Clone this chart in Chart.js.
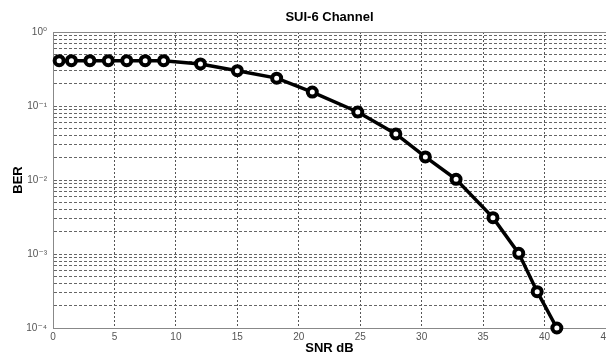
<!DOCTYPE html>
<html>
<head>
<meta charset="utf-8">
<script src="https://cdn.jsdelivr.net/npm/chart.js@4/dist/chart.umd.min.js"></script>
<style>
html,body{margin:0;padding:0;background:#fff;overflow:hidden;}
canvas{display:block;}
</style>
</head>
<body>
<canvas id="c" width="606" height="355"></canvas>
<script>
// ---- data ----
const titleText = "SUI-6 Channel";
const xTitle = "SNR dB";
const yTitle = "BER";
const snr = [0.5, 1.5, 3, 4.5, 6, 7.5, 9, 12, 15, 18.2, 21.1, 24.8, 27.9, 30.3, 32.8, 35.8, 37.9, 39.4, 41];
const ber = [0.41, 0.41, 0.41, 0.41, 0.41, 0.41, 0.41, 0.37, 0.30, 0.238, 0.154, 0.083, 0.042, 0.0205, 0.0102, 0.0031, 0.00102, 0.00031, 0.0001];
const xTicks = [0, 5, 10, 15, 20, 25, 30, 35, 40, 45];
const decades = [-4, -3, -2, -1, 0];
const supMap = {"0":"\u2070","1":"\u00B9","2":"\u00B2","3":"\u00B3","4":"\u2074","-":"\u207B"};

const FONT = "'Liberation Sans', Arial, 'DejaVu Sans', sans-serif";

const topBorder = {
  id: 'topBorder',
  afterDraw(chart) {
    const {ctx, chartArea} = chart;
    ctx.save();
    ctx.strokeStyle = '#888';
    ctx.lineWidth = 1;
    ctx.beginPath();
    ctx.moveTo(chartArea.left, chartArea.top + 0.5);
    ctx.lineTo(chartArea.right, chartArea.top + 0.5);
    ctx.stroke();
    ctx.restore();
  }
};

new Chart(document.getElementById('c'), {
  type: 'line',
  data: {
    datasets: [{
      data: snr.map((x, i) => ({x: x, y: ber[i]})),
      borderColor: '#000',
      borderWidth: 3.5,
      pointRadius: 4.5,
      pointBorderWidth: 4,
      pointBackgroundColor: '#fff',
      pointBorderColor: '#000',
      tension: 0,
      clip: false
    }]
  },
  options: {
    responsive: false,
    animation: false,
    layout: {padding: 0, autoPadding: false},
    plugins: {
      legend: {display: false},
      tooltip: {enabled: false},
      title: {
        display: true,
        text: titleText,
        fullSize: false,
        color: '#000',
        font: {family: FONT, size: 13, weight: 'bold', lineHeight: 1},
        padding: {top: 11, bottom: 8}
      }
    },
    scales: {
      x: {
        type: 'linear',
        min: 0, max: 45,
        afterBuildTicks(scale) { scale.ticks = xTicks.map(v => ({value: v})); },
        afterFit(scale) { scale.height = 27; scale.paddingLeft = 0; scale.paddingRight = 0; },
        grid: {color: '#555', lineWidth: 1, drawTicks: false},
        border: {display: true, color: '#888', width: 1, dash: [2, 2]},
        ticks: {color: '#555', font: {family: FONT, size: 10}, padding: 3, maxRotation: 0, autoSkip: false},
        title: {display: true, text: xTitle, color: '#000', font: {family: FONT, size: 13, weight: 'bold', lineHeight: 1}, padding: {top: 0, bottom: 0}}
      },
      y: {
        type: 'logarithmic',
        min: 1e-4, max: 1,
        afterBuildTicks(scale) {
          const t = [];
          decades.forEach(e => {
            for (let m = 1; m <= 9; m++) {
              if (e === 0 && m > 1) break;
              t.push({value: m * Math.pow(10, e), major: m === 1});
            }
          });
          scale.ticks = t;
        },
        afterFit(scale) { scale.width = 53; scale.paddingTop = 0; scale.paddingBottom = 0; },
        grid: {color: '#666', lineWidth: 1, drawTicks: false},
        border: {display: true, color: '#888', width: 1, dash: [3, 2]},
        ticks: {
          color: '#555',
          font: {family: FONT, size: 10},
          padding: 6,
          autoSkip: false,
          callback(v) {
            const e = Math.log10(v);
            if (Math.abs(e - Math.round(e)) > 1e-6) return '';
            return '10' + String(Math.round(e)).split('').map(c => supMap[c]).join('');
          }
        },
        title: {display: true, text: yTitle, color: '#000', font: {family: FONT, size: 13, weight: 'bold', lineHeight: 1}, padding: {top: 12, bottom: 0}}
      }
    }
  },
  plugins: [topBorder]
});
</script>
</body>
</html>
